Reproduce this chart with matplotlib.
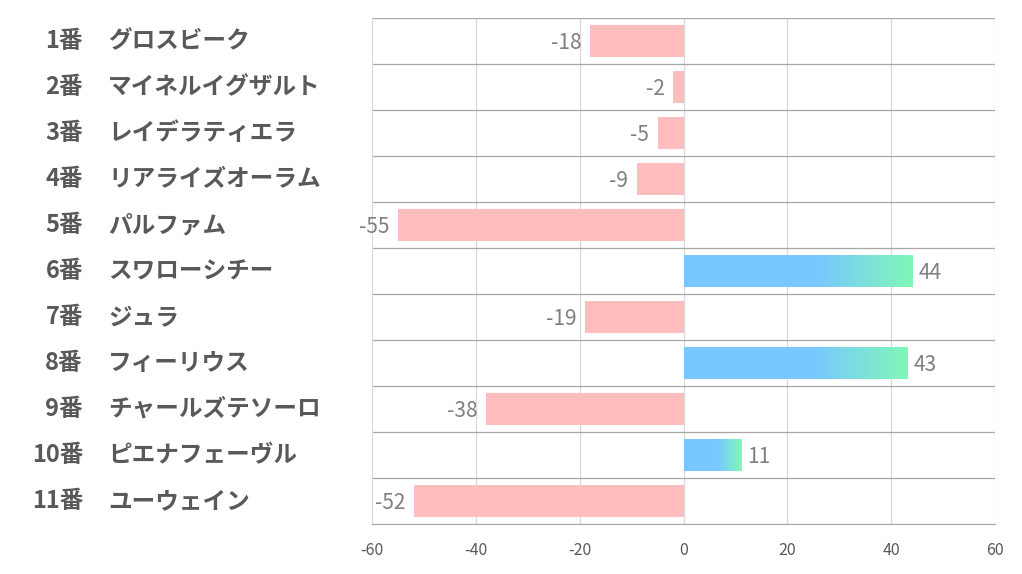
import numpy as np
import matplotlib.pyplot as plt
from matplotlib.colors import LinearSegmentedColormap
from matplotlib.patches import Rectangle

plt.rcParams['font.family'] = ['Noto Sans CJK JP', 'DejaVu Sans']
plt.rcParams['axes.unicode_minus'] = False

nums = ['1番', '2番', '3番', '4番', '5番', '6番', '7番', '8番', '9番', '10番', '11番']
names = ['グロスビーク', 'マイネルイグザルト', 'レイデラティエラ', 'リアライズオーラム', 'パルファム',
         'スワローシチー', 'ジュラ', 'フィーリウス', 'チャールズテソーロ', 'ピエナフェーヴル', 'ユーウェイン']
values = [-18, -2, -5, -9, -55, 44, -19, 43, -38, 11, -52]

pink = '#FFBDBD'
grad = LinearSegmentedColormap.from_list('g', [(0, '#78C8FF'), (0.58, '#78C8FF'), (1, '#80F8B8')])

fig = plt.figure(figsize=(10.22, 5.74), dpi=100)
ax = fig.add_axes([372/1022, 1-524/574, (995-372)/1022, (524-18)/574])

n = len(values)
ypos = np.arange(n)
h = 0.68
ax.set_xlim(-60, 60)
ax.set_ylim(n - 0.5, -0.5)

for y, v in zip(ypos, values):
    if v < 0:
        ax.barh(y, v, height=h, color=pink, zorder=2)
        ax.text(v - 1.6, y + 0.04, str(v), ha='right', va='center', fontsize=15, color='#7F7F7F')
    else:
        rect = Rectangle((0, y - h/2), v, h, facecolor='none', edgecolor='none')
        ax.add_patch(rect)
        im = ax.imshow(np.linspace(0, 1, 256).reshape(1, -1), cmap=grad, aspect='auto',
                       extent=(0, v, y + h/2, y - h/2), zorder=2)
        im.set_clip_path(rect)
        ax.text(v + 1.3, y + 0.04, str(v), ha='left', va='center', fontsize=15, color='#7F7F7F')

ax.set_xlim(-60, 60)
ax.set_ylim(n - 0.5, -0.5)

for x in [-40, -20, 0, 20, 40, 60]:
    ax.axvline(x, color='#D9D9D9', lw=0.9, zorder=1)
for y in np.arange(-0.5, n, 1):
    ax.axhline(y, color='#A6A6A6', lw=0.9, zorder=1)

for s in ['top', 'right']:
    ax.spines[s].set_visible(False)
ax.spines['left'].set_color('#D9D9D9')
ax.spines['bottom'].set_color('#A6A6A6')

ax.set_xticks([-60, -40, -20, 0, 20, 40, 60])
ax.tick_params(axis='x', length=0, labelsize=11.5, colors='#595959', pad=13)
ax.set_yticks([])

for y, a, b in zip(ypos, nums, names):
    yf = 1 - (18 + 46 * (y + 0.5)) / 574
    fig.text(83/1022, yf, a, ha='right', va='center', fontsize=17, fontweight='bold', color='#595959')
    fig.text(108/1022, yf, b, ha='left', va='center', fontsize=17, fontweight='bold', color='#595959')

fig.savefig('out.png', dpi=100)
